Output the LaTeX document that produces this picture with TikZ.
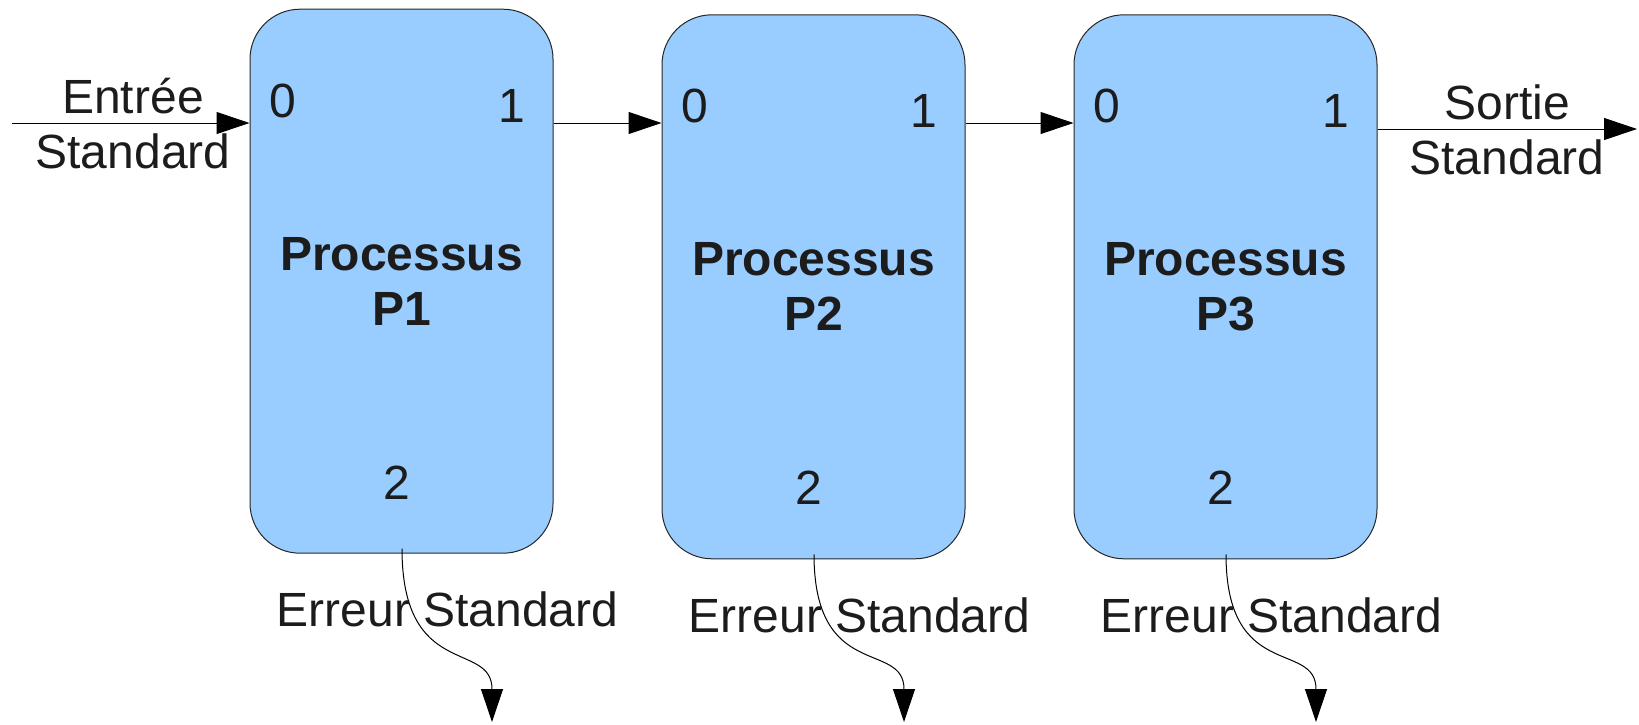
\documentclass[tikz,border=0pt]{standalone}
\usepackage{fontspec}
\setmainfont{Liberation Sans}
\usetikzlibrary{arrows.meta}
\definecolor{procblue}{RGB}{153,204,255}
\definecolor{txtgray}{RGB}{28,28,28}

\begin{document}
\begin{tikzpicture}[x=0.5pt,y=0.5pt,yscale=-1,xscale=1,
  font=\fontsize{24}{27.5}\selectfont, text=txtgray,
  proc/.style={draw=black!85, line width=0.5pt, fill=procblue, rounded corners=25pt,
    minimum width=151.5pt, minimum height=272pt, inner sep=0pt, align=center,
    font=\fontsize{24}{27.5}\selectfont\bfseries},
  flow/.style={line width=0.5pt, -{Triangle[length=16.5pt,width=11pt]}}]
\useasboundingbox (0,0) rectangle (1639,724);

%Shape: Processes
\node [proc] (p1) at (401.5,281.2) {Processus\\P1};
\node [proc] (p2) at (813.5,286.8) {Processus\\P2};
\node [proc] (p3) at (1225.5,286.8) {Processus\\P3};

% Text Node: ports
\node (p1in) at ([shift={(33,92)}]p1.north west) {0};
\node (p1out) at ([shift={(-42,97)}]p1.north east) {1};
\node (p1err) at ([shift={(-4.5,-71)}]p1.south) {2};
\node (p2in) at ([shift={(33,92)}]p2.north west) {0};
\node (p2out) at ([shift={(-42,97)}]p2.north east) {1};
\node (p2err) at ([shift={(-4.5,-72)}]p2.south) {2};
\node (p3in) at ([shift={(33,92)}]p3.north west) {0};
\node (p3out) at ([shift={(-42,97)}]p3.north east) {1};
\node (p3err) at ([shift={(-4.5,-72)}]p3.south) {2};

%Straight Lines: standard in / out
\coordinate (stdin) at (11.5,123);
\coordinate (stdout) at (1637,129);
\draw [flow] (stdin) -- (p1.west |- stdin);
\draw [flow] (p1.east |- stdin) -- (p2.west |- stdin);
\draw [flow] (p2.east |- stdin) -- (p3.west |- stdin);
\draw [flow] (p3.east |- stdout) -- (stdout);

% Text Node
\node [align=center] (entree) at (133,124) {Entrée\\Standard};
% Text Node
\node [align=center] (sortie) at (1507,130) {Sortie\\Standard};

%Curves: standard error
\coordinate (err1) at (492,722);
\coordinate (err2) at (904,722);
\coordinate (err3) at (1316,722);
\draw [flow] ([shift={(0.5,-5)}]p1.south) .. controls +(0,132) and +(0,-82) .. (err1);
\draw [flow] ([shift={(0.5,-5)}]p2.south) .. controls +(0,128) and +(0,-82) .. (err2);
\draw [flow] ([shift={(0.5,-5)}]p3.south) .. controls +(0,128) and +(0,-82) .. (err3);

% Text Node
\node (erreur1) at ([shift={(46,56)}]p1.south) {Erreur Standard};
\node (erreur2) at ([shift={(46,56)}]p2.south) {Erreur Standard};
\node (erreur3) at ([shift={(46,56)}]p3.south) {Erreur Standard};

\end{tikzpicture}
\end{document}
